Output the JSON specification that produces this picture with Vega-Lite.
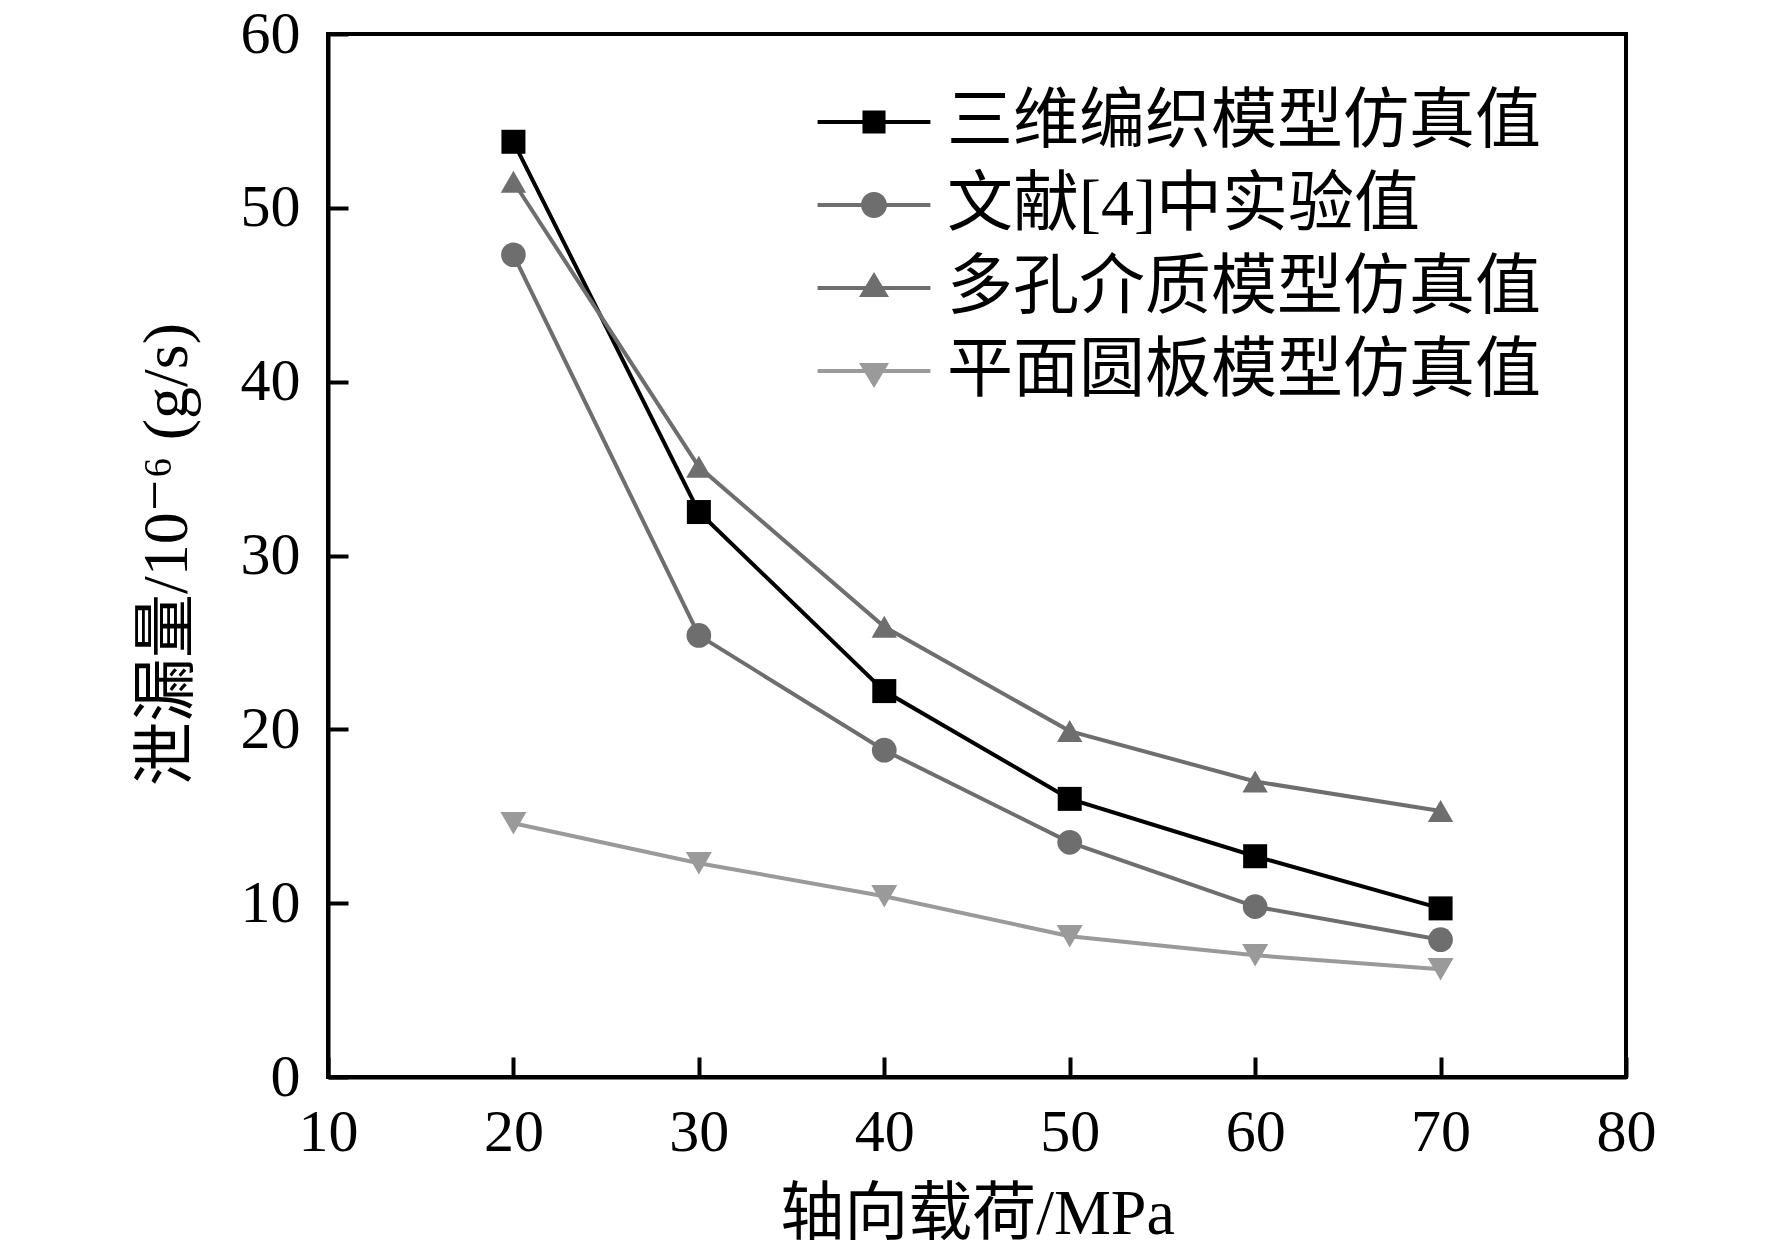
{
  "$schema": "https://vega.github.io/schema/vega-lite/v6.json",
  "width": 1298,
  "height": 1043,
  "autosize": "none",
  "padding": {"left": 328, "top": 34, "right": 146, "bottom": 181},
  "background": "white",
  "data": {
    "values": [
      {"load": 20, "leak": 53.8, "series": "三维编织模型仿真值"},
      {"load": 30, "leak": 32.5, "series": "三维编织模型仿真值"},
      {"load": 40, "leak": 22.2, "series": "三维编织模型仿真值"},
      {"load": 50, "leak": 16.0, "series": "三维编织模型仿真值"},
      {"load": 60, "leak": 12.7, "series": "三维编织模型仿真值"},
      {"load": 70, "leak": 9.7, "series": "三维编织模型仿真值"},
      {"load": 20, "leak": 47.3, "series": "文献[4]中实验值"},
      {"load": 30, "leak": 25.4, "series": "文献[4]中实验值"},
      {"load": 40, "leak": 18.8, "series": "文献[4]中实验值"},
      {"load": 50, "leak": 13.5, "series": "文献[4]中实验值"},
      {"load": 60, "leak": 9.8, "series": "文献[4]中实验值"},
      {"load": 70, "leak": 7.9, "series": "文献[4]中实验值"},
      {"load": 20, "leak": 51.5, "series": "多孔介质模型仿真值"},
      {"load": 30, "leak": 35.1, "series": "多孔介质模型仿真值"},
      {"load": 40, "leak": 25.9, "series": "多孔介质模型仿真值"},
      {"load": 50, "leak": 19.9, "series": "多孔介质模型仿真值"},
      {"load": 60, "leak": 17.0, "series": "多孔介质模型仿真值"},
      {"load": 70, "leak": 15.3, "series": "多孔介质模型仿真值"},
      {"load": 20, "leak": 14.6, "series": "平面圆板模型仿真值"},
      {"load": 30, "leak": 12.3, "series": "平面圆板模型仿真值"},
      {"load": 40, "leak": 10.4, "series": "平面圆板模型仿真值"},
      {"load": 50, "leak": 8.1, "series": "平面圆板模型仿真值"},
      {"load": 60, "leak": 7.0, "series": "平面圆板模型仿真值"},
      {"load": 70, "leak": 6.2, "series": "平面圆板模型仿真值"}
    ]
  },
  "encoding": {
    "x": {
      "field": "load",
      "type": "quantitative",
      "scale": {"domain": [10, 80], "nice": false, "zero": false},
      "axis": {
        "values": [10, 20, 30, 40, 50, 60, 70, 80],
        "title": "轴向载荷/MPa",
        "titleX": 649,
        "titleY": 137,
        "titleBaseline": "middle",
        "labelPadding": 46
      }
    },
    "y": {
      "field": "leak",
      "type": "quantitative",
      "scale": {"domain": [0, 60], "nice": false},
      "axis": {
        "values": [0, 10, 20, 30, 40, 50, 60],
        "title": "泄漏量/10⁻⁶ (g/s)",
        "titleX": -161,
        "titleY": 520,
        "titleAngle": -90,
        "titleAlign": "center",
        "titleBaseline": "middle",
        "labelPadding": 48
      }
    },
    "color": {
      "field": "series",
      "type": "nominal",
      "scale": {
        "domain": ["三维编织模型仿真值", "文献[4]中实验值", "多孔介质模型仿真值", "平面圆板模型仿真值"],
        "range": ["#000000", "#6e6e6e", "#6e6e6e", "#9a9a9a"]
      },
      "legend": null
    }
  },
  "layer": [
    {
      "mark": {"type": "line", "strokeWidth": 4}
    },
    {
      "mark": {"type": "point", "filled": true, "opacity": 1},
      "encoding": {
        "shape": {
          "field": "series",
          "type": "nominal",
          "scale": {
            "domain": ["三维编织模型仿真值", "文献[4]中实验值", "多孔介质模型仿真值", "平面圆板模型仿真值"],
            "range": ["square", "circle", "triangle-up", "triangle-down"]
          },
          "legend": null
        },
        "size": {
          "field": "series",
          "type": "nominal",
          "scale": {
            "domain": ["三维编织模型仿真值", "文献[4]中实验值", "多孔介质模型仿真值", "平面圆板模型仿真值"],
            "range": [576, 676, 900, 900]
          },
          "legend": null
        }
      }
    },
    {
      "transform": [{"filter": "datum.load < 0"}],
      "mark": {"type": "point", "filled": true, "opacity": 1, "size": 576},
      "encoding": {
        "color": {
          "field": "series",
          "type": "nominal",
          "scale": {
            "domain": ["三维编织模型仿真值", "文献[4]中实验值", "多孔介质模型仿真值", "平面圆板模型仿真值"],
            "range": ["#000000", "#6e6e6e", "#6e6e6e", "#9a9a9a"]
          },
          "legend": {
            "orient": "none",
            "legendX": 513,
            "legendY": 55,
            "direction": "vertical",
            "title": null,
            "padding": 0,
            "symbolSize": 576,
            "symbolStrokeWidth": 0,
            "symbolOpacity": 1,
            "labelOffset": 40,
            "rowPadding": 17,
            "labelFontSize": 66,
            "labelColor": "black",
            "labelLimit": 0
          }
        },
        "shape": {
          "field": "series",
          "type": "nominal",
          "scale": {
            "domain": ["三维编织模型仿真值", "文献[4]中实验值", "多孔介质模型仿真值", "平面圆板模型仿真值"],
            "range": [
              "M-4.7,-0.17H4.7V0.17H-4.7Z M-0.96,-0.96H0.96V0.96H-0.96Z",
              "M-4.7,-0.17H4.7V0.17H-4.7Z M-1.08,0A1.08,1.08 0 1,1 1.08,0A1.08,1.08 0 1,1 -1.08,0Z",
              "M-4.7,-0.17H4.7V0.17H-4.7Z M0,-1.33L1.25,0.75L-1.25,0.75Z",
              "M-4.7,-0.17H4.7V0.17H-4.7Z M-1.25,-0.67L1.25,-0.67L0,1.42Z"
            ]
          },
          "legend": {
            "orient": "none",
            "legendX": 513,
            "legendY": 55,
            "direction": "vertical",
            "title": null,
            "padding": 0,
            "symbolSize": 576,
            "symbolStrokeWidth": 0,
            "symbolOpacity": 1,
            "labelOffset": 40,
            "rowPadding": 17,
            "labelFontSize": 66,
            "labelColor": "black",
            "labelLimit": 0
          }
        }
      }
    }
  ],
  "resolve": {"scale": {"shape": "independent", "color": "independent"}},
  "config": {
    "font": "Liberation Serif, DejaVu Serif, Noto Sans CJK SC",
    "view": {"stroke": "black", "strokeWidth": 4},
    "axis": {
      "grid": false,
      "domainColor": "black",
      "domainWidth": 4,
      "tickColor": "black",
      "tickWidth": 4,
      "tickSize": -20,
      "labelFont": "Liberation Serif",
      "labelFontSize": 60,
      "labelColor": "black",
      "labelFlush": false,
      "labelOverlap": false,
      "titleFont": "Liberation Serif, DejaVu Serif, Noto Sans CJK SC",
      "titleFontSize": 64,
      "titleFontWeight": "normal",
      "titleColor": "black"
    },
    "legend": {
      "labelFont": "Liberation Serif, Noto Sans CJK SC"
    }
  }
}
